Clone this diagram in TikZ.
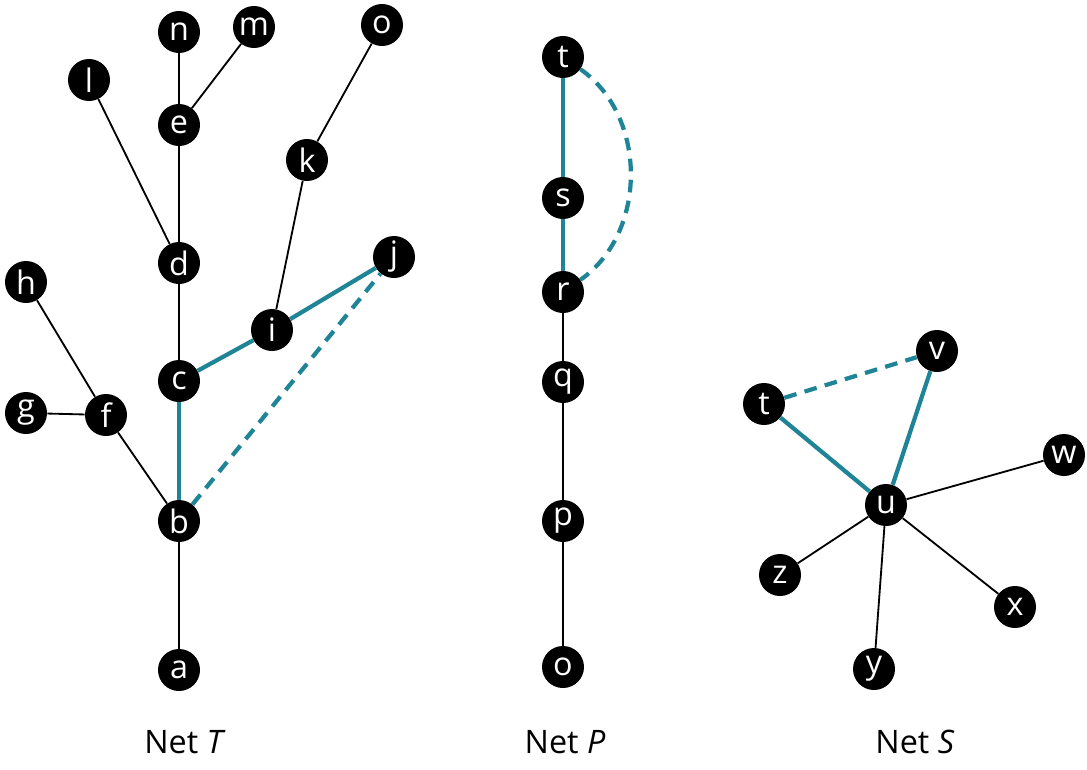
\documentclass[tikz,border=0pt]{standalone}
\usepackage{fontspec}
\setmainfont{Open Sans}
\usetikzlibrary{positioning}
\definecolor{teal1}{RGB}{30,132,150}
\begin{document}
\begin{tikzpicture}[x=0.025cm,y=-0.025cm,
    vert/.style={circle, fill=black, text=white, inner sep=0pt, minimum size=1.05cm, font=\fontsize{23}{26}\selectfont},
    edge/.style={line width=1.3pt},
    tree/.style={teal1, line width=3pt},
    extra/.style={teal1, line width=3pt, dash pattern=on 9pt off 6pt},
    lbl/.style={font=\fontsize{23}{26}\selectfont}]
    \useasboundingbox (0,0) rectangle (1087,770);
    % Net T
    \node[vert] (a) at (179,670) {a};
    \node[vert] (b) at (179,521) {b};
    \node[vert] (c) at (179,381) {c};
    \node[vert] (d) at (179,263) {d};
    \node[vert] (e) at (179,125) {e};
    \node[vert] (n) at (179,32) {n};
    \node[vert] (m) at (254,27) {m};
    \node[vert] (l) at (89,80) {l};
    \node[vert] (f) at (106,415) {f};
    \node[vert] (g) at (26,413) {g};
    \node[vert] (h) at (26,282) {h};
    \node[vert] (i) at (272,330) {i};
    \node[vert] (j) at (394,257) {j};
    \node[vert] (k) at (307,160) {k};
    \node[vert] (oT) at (382,25) {o};
    \begin{scope}[on background layer/.style={}]
    \end{scope}
    % Net P
    \node[vert] (tP) at (563,57) {t};
    \node[vert] (s) at (563,198) {s};
    \node[vert] (r) at (563,292) {r};
    \node[vert] (q) at (563,382) {q};
    \node[vert] (p) at (563,521) {p};
    \node[vert] (oP) at (563,667) {o};
    % Net S
    \node[vert] (tS) at (764,404) {t};
    \node[vert] (v) at (937,351) {v};
    \node[vert] (u) at (886,505) {u};
    \node[vert] (w) at (1064,455) {w};
    \node[vert] (z) at (780,575) {z};
    \node[vert] (x) at (1015,607) {x};
    \node[vert] (y) at (874,669) {y};
    % Edges
    \begin{scope}[on layer/.style={}]
    \foreach \u/\w in {a/b, c/d, d/e, e/n, e/m, l/d, f/b, g/f, h/f, i/k, k/oT}
        \draw[edge] (\u) -- (\w);
    \draw[tree] (b) -- (c);
    \draw[tree] (c) -- (i);
    \draw[tree] (i) -- (j);
    \draw[extra] (b) -- (j);
    \foreach \u/\w in {r/q, q/p, p/oP}
        \draw[edge] (\u) -- (\w);
    \draw[tree] (tP) -- (s);
    \draw[tree] (s) -- (r);
    \draw[extra] (tP) to[bend left=55] (r);
    \foreach \w in {w, z, x, y}
        \draw[edge] (u) -- (\w);
    \draw[tree] (tS) -- (u);
    \draw[tree] (u) -- (v);
    \draw[extra] (tS) -- (v);
    \end{scope}
    % Labels
    \node[lbl] (labT) at (185,742) {Net \textit{T}};
    \node[lbl] (labP) at (565,742) {Net \textit{P}};
    \node[lbl] (labS) at (915,742) {Net \textit{S}};
\end{tikzpicture}
\end{document}
